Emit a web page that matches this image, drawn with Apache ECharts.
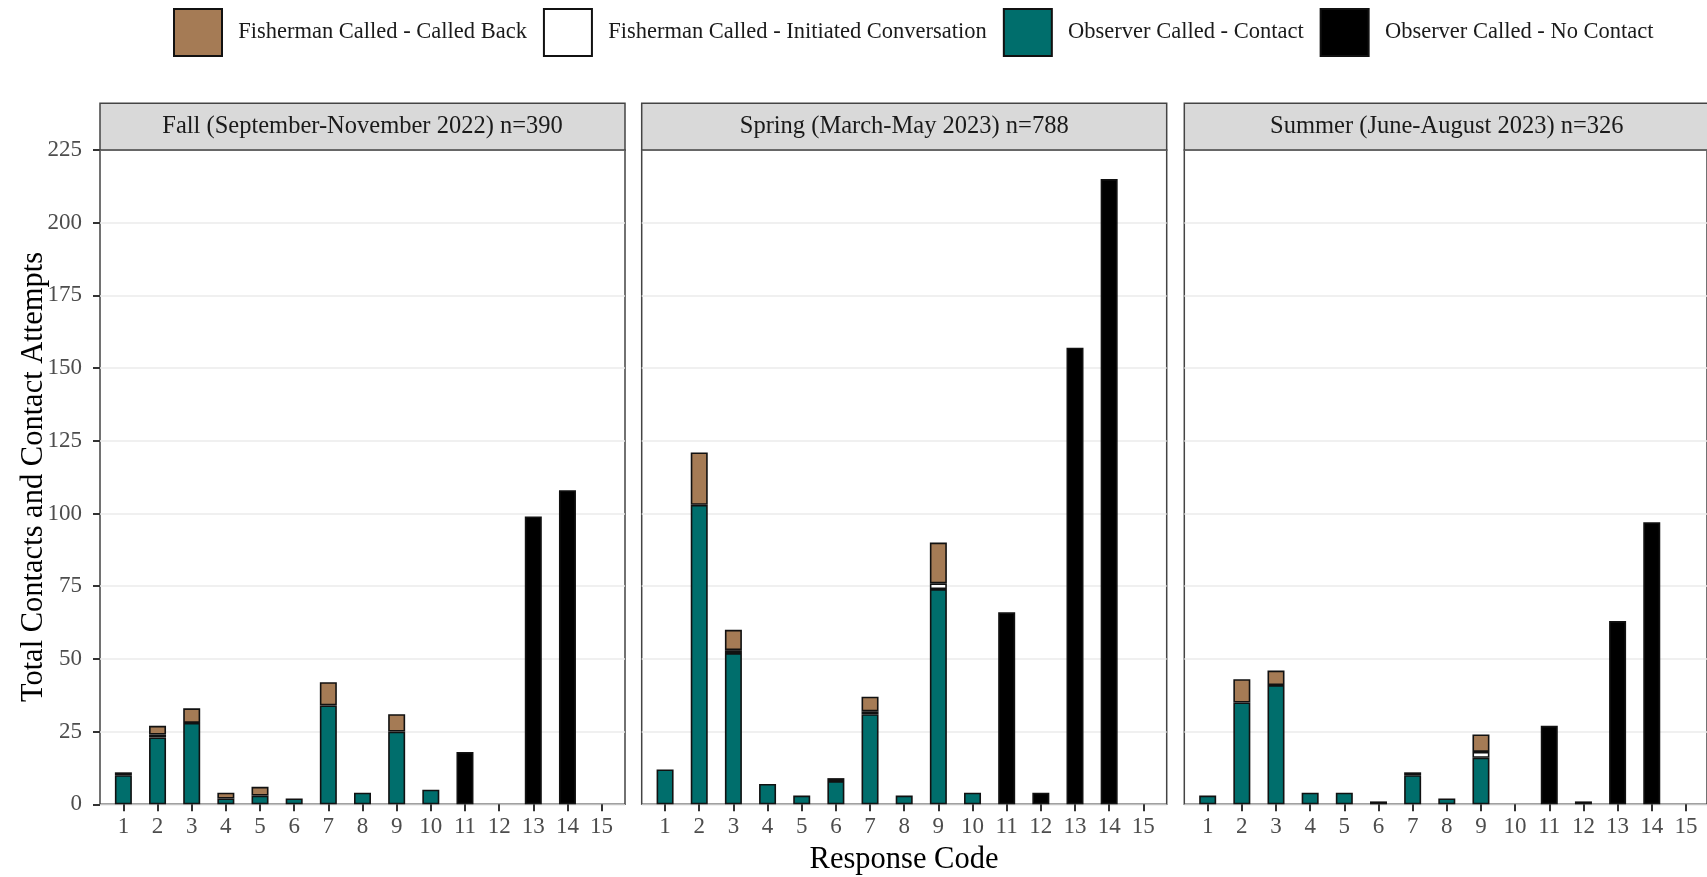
<!DOCTYPE html>
<html>
<head>
<meta charset="utf-8">
<title>Response codes by season</title>
<script src="https://cdn.jsdelivr.net/npm/echarts@6/dist/echarts.min.js"></script>
<style>
  html, body { margin: 0; padding: 0; background: #fff; }
  #main { width: 1707px; height: 877px; }
</style>
</head>
<body>
<div id="main"></div>
<script>
// response codes on the x axis
const codes = ["1", "2", "3", "4", "5", "6", "7", "8", "9", "10", "11", "12", "13", "14", "15"];
const yTicks = [0, 25, 50, 75, 100, 125, 150, 175, 200, 225];

const seriesNames = [
  "Fisherman Called - Called Back",
  "Fisherman Called - Initiated Conversation",
  "Observer Called - Contact",
  "Observer Called - No Contact"
];

const panelTitles = [
  "Fall (September-November 2022) n=390",
  "Spring (March-May 2023) n=788",
  "Summer (June-August 2023) n=326"
];

const fallContact = [10, 23, 28, 2, 3, 2, 34, 4, 25, 5, 0, 0, 0, 0, 0];
const fallInitiated = [0, 1, 0, 0, 0, 0, 0, 0, 0, 0, 0, 0, 0, 0, 0];
const fallCalledBack = [1, 3, 5, 2, 3, 0, 8, 0, 6, 0, 0, 0, 0, 0, 0];
const fallNoContact = [0, 0, 0, 0, 0, 0, 0, 0, 0, 0, 18, 0, 99, 108, 0];

const springContact = [12, 103, 52, 7, 3, 8, 31, 3, 74, 4, 0, 0, 0, 0, 0];
const springInitiated = [0, 0, 1, 0, 0, 0, 1, 0, 2, 0, 0, 0, 0, 0, 0];
const springCalledBack = [0, 18, 7, 0, 0, 1, 5, 0, 14, 0, 0, 0, 0, 0, 0];
const springNoContact = [0, 0, 0, 0, 0, 0, 0, 0, 0, 0, 66, 4, 157, 215, 0];

const summerContact = [3, 35, 41, 4, 4, 1, 10, 2, 16, 0, 0, 0, 0, 0, 0];
const summerInitiated = [0, 0, 0, 0, 0, 0, 0, 0, 2, 0, 0, 0, 0, 0, 0];
const summerCalledBack = [0, 8, 5, 0, 0, 0, 1, 0, 6, 0, 0, 0, 0, 0, 0];
const summerNoContact = [0, 0, 0, 0, 0, 0, 0, 0, 0, 0, 27, 1, 63, 97, 0];

var chart = echarts.init(document.getElementById("main"));

var font = "Liberation Serif";
var colors = ["#A57B55", "#ffffff", "#006E6C", "#000000"];
var panelLefts = [100, 641.7, 1184.3];
var panelWidth = 525;
var inset = 6.3; // ggplot's discrete axis padding
var panelTop = 150;
var panelHeight = 654.3;
var stripTop = 103.3;

// stack order bottom -> top: contact, initiated, called back, no contact
var panels = [
  { contact: fallContact, initiated: fallInitiated, back: fallCalledBack, none: fallNoContact },
  { contact: springContact, initiated: springInitiated, back: springCalledBack, none: springNoContact },
  { contact: summerContact, initiated: summerInitiated, back: summerCalledBack, none: summerNoContact }
];

function clean(arr) {
  return arr.map(function (v) {
    return v ? v : "-";
  });
}

let grid = [], xAxis = [], yAxis = [], series = [], graphic = [];

panels.forEach(function (p, k) {
  var f = 2 * k, d = 2 * k + 1;
  // frame grid: border + horizontal grid lines + y labels
  grid.push({
    left: panelLefts[k],
    top: panelTop,
    width: panelWidth,
    height: panelHeight,
    show: true,
    borderColor: "#444",
    borderWidth: 1.5,
    backgroundColor: "#fff"
  });
  // data grid: bars and x ticks
  grid.push({
    left: panelLefts[k] + inset,
    top: panelTop,
    width: panelWidth - 2 * inset,
    height: panelHeight
  });
  xAxis.push({ gridIndex: f, type: "value", min: 0, max: 1, show: false });
  yAxis.push({
    gridIndex: f,
    type: "value",
    min: 0,
    max: 225,
    interval: 25,
    axisLine: { show: false },
    axisTick: { show: k === 0, length: 7, lineStyle: { color: "#333", width: 2 } },
    axisLabel: {
      show: k === 0,
      margin: 18,
      color: "#4D4D4D",
      fontFamily: font,
      fontSize: 23
    },
    splitLine: { show: true, lineStyle: { color: "#EBEBEB", width: 1.6 } }
  });
  xAxis.push({
    gridIndex: d,
    type: "category",
    data: codes,
    axisLine: { show: false },
    axisTick: { show: true, alignWithLabel: true, length: 7, lineStyle: { color: "#333", width: 2 } },
    axisLabel: {
      margin: 11,
      interval: 0,
      color: "#4D4D4D",
      fontFamily: font,
      fontSize: 23
    }
  });
  yAxis.push({ gridIndex: d, type: "value", min: 0, max: 225, show: false });

  var stacks = [p.back, p.initiated, p.contact, p.none];
  var order = [2, 1, 0, 3];
  order.forEach(function (s) {
    series.push({
      name: seriesNames[s],
      type: "bar",
      xAxisIndex: d,
      yAxisIndex: d,
      stack: "panel" + k,
      barWidth: 17,
      data: clean(stacks[s]),
      itemStyle: { color: colors[s], borderColor: "#111", borderWidth: 1.6 },
      emphasis: { disabled: true }
    });
  });

  // facet strip
  graphic.push({
    type: "rect",
    shape: { x: panelLefts[k], y: stripTop, width: panelWidth, height: panelTop - stripTop },
    style: { fill: "#D9D9D9", stroke: "#444", lineWidth: 1.5 },
    z: 10
  });
  graphic.push({
    type: "text",
    x: panelLefts[k] + panelWidth / 2,
    y: (stripTop + panelTop) / 2,
    style: {
      text: panelTitles[k],
      align: "center",
      verticalAlign: "middle",
      fill: "#1A1A1A",
      font: "24.5px '" + font + "'"
    },
    z: 11
  });
});

// axis titles
graphic.push({
  type: "text",
  x: 904,
  y: 860,
  style: {
    text: "Response Code",
    align: "center",
    verticalAlign: "middle",
    fill: "#000",
    font: "30.5px '" + font + "'"
  }
});
graphic.push({
  type: "text",
  x: 34,
  y: 477,
  rotation: Math.PI / 2,
  style: {
    text: "Total Contacts and Contact Attempts",
    align: "center",
    verticalAlign: "middle",
    fill: "#000",
    font: "30.5px '" + font + "'"
  }
});

let option = {
  backgroundColor: "#fff",
  animation: false,
  legend: {
    top: 8,
    left: 173,
    padding: 0,
    icon: "rect",
    itemWidth: 48,
    itemHeight: 47,
    itemGap: 16,
    selectedMode: false,
    data: seriesNames,
    formatter: function (name) {
      return "  " + name;
    },
    textStyle: { fontFamily: font, fontSize: 22.5, color: "#1A1A1A" }
  },
  grid: grid,
  xAxis: xAxis,
  yAxis: yAxis,
  series: series,
  graphic: graphic
};
chart.setOption(option);
window.addEventListener("resize", () => {
  chart.resize();
});
</script>
</body>
</html>
